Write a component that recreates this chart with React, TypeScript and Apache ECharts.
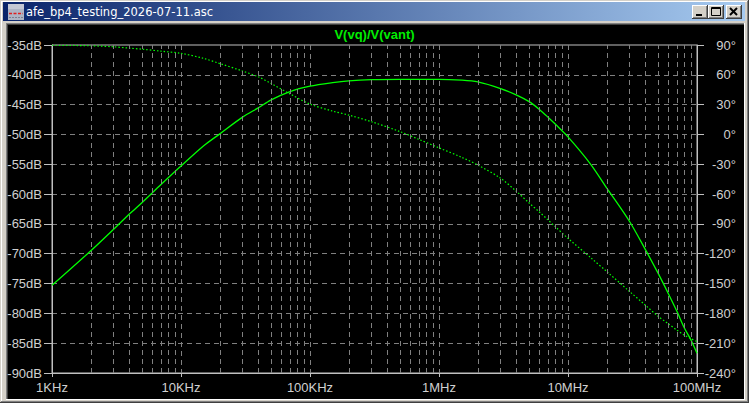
/** LTspice 파형 창 재현: 크기(dB, 실선)와 위상(°, 점선)을 같은 로그 주파수 축에 겹친다. */
import * as echarts from "echarts";
import { useEffect, useRef } from "react";

const W = 749;
const H = 403;

// 주파수 표본 (Hz). 두 곡선 모두 같은 표본에서 읽었다.
const freqHz = [
  1e3, 2e3, 3e3, 4e3, 5e3, 7e3,
  1e4, 1.5e4, 2e4, 3e4, 4e4, 5e4, 7e4,
  1e5, 1.5e5, 2e5, 3e5, 5e5, 7e5,
  1e6, 1.5e6, 2e6, 3e6, 4e6, 5e6, 6e6, 7e6, 8e6,
  1e7, 1.5e7, 2e7, 3e7, 4e7, 5e7, 6e7, 7e7, 8e7, 9e7,
  1e8,
];

const magDb = [
  -75.3, -69.5, -65.9, -63.3, -61.4, -58.4,
  -55.3, -51.9, -49.9, -47.1, -45.5, -44.2, -42.8,
  -41.9, -41.3, -41.0, -40.8, -40.75, -40.75,
  -40.75, -40.9, -41.2, -42.3, -43.4, -44.5, -45.8, -47.1, -48.3,
  -50.4, -55.0, -59.0, -64.6, -69.4, -73.3, -76.7, -79.7, -82.5, -84.5,
  -86.7,
];

const phaseDeg = [
  89.8, 89.2, 88.2, 86.8, 85.8, 83.8,
  81.6, 76.5, 71.3, 63.8, 57.8, 51.2, 40.8,
  30.5, 23.5, 19.5, 12.8, 2.8, -5,
  -13.5, -23, -30.8, -44, -57.5, -69, -78, -86, -93,
  -104.5, -124, -138, -158, -172, -183, -190.5, -197, -202, -205.5,
  -208.5,
];

const xTickLabels = ["1KHz", "10KHz", "100KHz", "1MHz", "10MHz", "100MHz"];
const decadeStarts = [1e3, 1e4, 1e5, 1e6, 1e7];
const minorSteps = [2, 3, 4, 5, 6, 7, 8, 9];

const traceName = "V(vq)/V(vant)";
const windowTitle = "afe_bp4_testing_2026-07-11.asc";

const GREEN = "#00ff00";
const AXIS = "#c0c0c0";
const LABEL = "#d0d0d0";
const GRID = "#808080";
const FACE = "#d4d0c8";
const FONT = "'Liberation Sans', Arial, sans-serif";
const DASH = [5, 4];

const minorGridHz = decadeStarts.flatMap((d) => minorSteps.map((m) => d * m));

function seg(x1: number, y1: number, x2: number, y2: number, stroke: string, lineWidth = 1) {
  return { type: "line", silent: true, z: -10, shape: { x1, y1, x2, y2 }, style: { stroke, lineWidth } };
}

function box(x: number, y: number, width: number, height: number, fill: string) {
  return { type: "rect", silent: true, z: -10, shape: { x, y, width, height }, style: { fill } };
}

// 클래식 윈도 버튼 (돋을새김)
function button(x: number, y: number, w: number, h: number) {
  return [
    box(x, y, w, h, FACE),
    seg(x, y + 0.5, x + w - 1, y + 0.5, "#ffffff"),
    seg(x + 0.5, y, x + 0.5, y + h - 1, "#ffffff"),
    seg(x + 1, y + h - 1.5, x + w - 1, y + h - 1.5, GRID),
    seg(x + w - 1.5, y + 1, x + w - 1.5, y + h - 1, GRID),
    seg(x, y + h - 0.5, x + w, y + h - 0.5, "#404040"),
    seg(x + w - 0.5, y, x + w - 0.5, y + h, "#404040"),
  ];
}

function windowChrome() {
  return [
    // 바깥 테두리
    seg(0, 0.5, W, 0.5, FACE),
    seg(0.5, 0, 0.5, H, FACE),
    seg(1, 1.5, W - 2, 1.5, "#ffffff"),
    seg(1.5, 1, 1.5, H - 2, "#ffffff"),
    seg(0, H - 0.5, W, H - 0.5, "#404040"),
    seg(W - 0.5, 0, W - 0.5, H, "#404040"),
    seg(1, H - 1.5, W - 1, H - 1.5, GRID),
    seg(W - 1.5, 1, W - 1.5, H - 1, GRID),
    // 제목 표시줄
    {
      type: "rect",
      silent: true,
      z: -10,
      shape: { x: 3, y: 2, width: 742, height: 19 },
      style: {
        fill: new echarts.graphic.LinearGradient(0, 0, 1, 0, [
          { offset: 0, color: "#0a246a" },
          { offset: 1, color: "#a6caf0" },
        ]),
      },
    },
    // 아이콘
    box(8, 4, 16, 16, "#aeb4c4"),
    box(8, 4, 16, 5, "#c4c8d4"),
    { ...seg(9, 13.5, 23, 13.5, "#e02020", 2), style: { stroke: "#e02020", lineWidth: 1.5, lineDash: [3, 1.5] } },
    { ...seg(9, 17.5, 23, 17.5, "#7c8090"), style: { stroke: "#7c8090", lineWidth: 1, lineDash: [2, 1] } },
    {
      type: "text",
      silent: true,
      z: -10,
      x: 26,
      y: 12,
      style: {
        text: windowTitle,
        fill: "#ffffff",
        font: "11.5px 'DejaVu Sans', Verdana, sans-serif",
        textVerticalAlign: "middle",
      },
    },
    ...button(692, 5, 16, 14),
    ...button(708, 5, 16, 14),
    ...button(726, 5, 16, 14),
    box(696, 14, 6, 2, "#000000"),
    { type: "rect", silent: true, z: -9, shape: { x: 711.5, y: 7.5, width: 9, height: 8 }, style: { fill: "none", stroke: "#000000", lineWidth: 1 } },
    seg(711, 8.5, 721, 8.5, "#000000"),
    { ...seg(730, 8, 737, 15, "#000000", 2), z: -9 },
    { ...seg(737, 8, 730, 15, "#000000", 2), z: -9 },
    // 움푹한 작업 영역 테두리
    seg(6, 23.5, 745, 23.5, GRID),
    seg(6.5, 23, 6.5, 400, GRID),
    seg(7, 24.5, 744, 24.5, "#404040"),
    seg(7.5, 24, 7.5, 399, "#404040"),
    seg(6, 399.5, 745, 399.5, "#ffffff"),
    seg(744.5, 23, 744.5, 400, "#ffffff"),
    box(8, 25, 736, 374, "#000000"),
  ];
}

export default function App() {
  const ref = useRef<HTMLDivElement>(null);

  useEffect(() => {
    if (!ref.current) return;
    const c = echarts.init(ref.current, undefined, { renderer: "svg" });

    const axisText = { color: LABEL, fontSize: 13, fontFamily: FONT };

    c.setOption({
      animation: false,
      backgroundColor: FACE,
      title: {
        text: traceName,
        left: "center",
        top: 28,
        padding: 0,
        textStyle: { color: "#00ee00", fontSize: 13, fontWeight: "bold", fontFamily: FONT },
      },
      grid: {
        left: 52,
        right: 52,
        top: 45,
        bottom: 30,
        show: true,
        borderColor: AXIS,
        borderWidth: 1,
        backgroundColor: "transparent",
      },
      graphic: { elements: windowChrome() },
      xAxis: {
        type: "log",
        logBase: 10,
        min: 1e3,
        max: 1e8,
        axisLine: { show: true, onZero: false, lineStyle: { color: AXIS } },
        axisTick: { show: true, length: 4, lineStyle: { color: AXIS } },
        axisLabel: {
          ...axisText,
          margin: 8,
          formatter: (v: number) => xTickLabels[Math.round(Math.log10(v)) - 3] ?? "",
        },
        splitLine: { show: true, showMinLine: false, showMaxLine: false, lineStyle: { color: GRID, type: DASH } },
      },
      yAxis: [
        {
          type: "value",
          min: -90,
          max: -35,
          interval: 5,
          position: "left",
          axisLine: { show: true, onZero: false, lineStyle: { color: AXIS } },
          axisTick: { show: true, length: 8, lineStyle: { color: AXIS } },
          axisLabel: { ...axisText, margin: 10, formatter: (v: number) => `${v}dB` },
          splitLine: { show: true, showMinLine: false, showMaxLine: false, lineStyle: { color: GRID, type: DASH } },
        },
        {
          type: "value",
          min: -240,
          max: 90,
          interval: 30,
          position: "right",
          axisLine: { show: true, onZero: false, lineStyle: { color: AXIS } },
          axisTick: { show: true, length: 7, lineStyle: { color: AXIS } },
          axisLabel: { ...axisText, margin: 39, align: "right", formatter: (v: number) => `${v}°` },
          splitLine: { show: false },
        },
      ],
      series: [
        {
          // 보조 눈금(2..9) 세로 격자만 그리는 빈 시리즈
          type: "line",
          yAxisIndex: 0,
          z: 1,
          silent: true,
          showSymbol: false,
          lineStyle: { width: 0, opacity: 0 },
          data: [[1e3, -90]],
          markLine: {
            silent: true,
            symbol: ["none", "none"],
            label: { show: false },
            lineStyle: { color: GRID, type: DASH, width: 1 },
            emphasis: { disabled: true },
            data: minorGridHz.map((f) => ({ xAxis: f })),
          },
        },
        {
          name: "mag",
          type: "line",
          yAxisIndex: 0,
          z: 3,
          showSymbol: false,
          smooth: 0.3,
          lineStyle: { color: GREEN, width: 1.3 },
          data: freqHz.map((f, i) => [f, magDb[i]]),
        },
        {
          name: "phase",
          type: "line",
          yAxisIndex: 1,
          z: 3,
          showSymbol: false,
          smooth: 0.3,
          lineStyle: { color: GREEN, width: 1.2, type: [1.5, 2] },
          data: freqHz.map((f, i) => [f, phaseDeg[i]]),
        },
      ],
    });

    return () => c.dispose();
  }, []);

  return <div ref={ref} style={{ position: "fixed", left: 0, top: 0, width: W, height: H }} />;
}
